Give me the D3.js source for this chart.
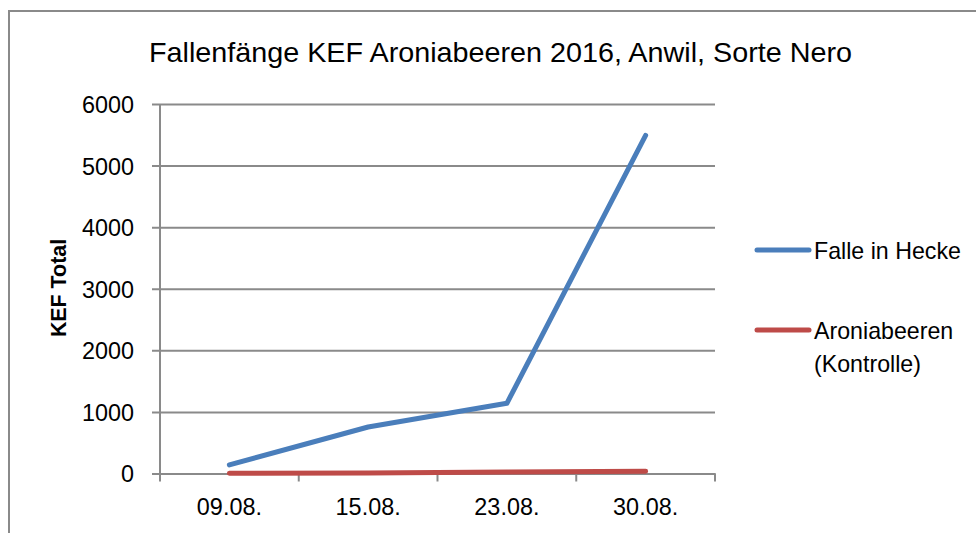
<!DOCTYPE html>
<head>
  <meta charset="utf-8">
  <script src="https://d3js.org/d3.v7.min.js"></script>
  <style>
    body { margin: 0; background: #fff; }
    text { font-family: 'Liberation Sans', Arial, sans-serif; fill: #000; }
    .title { font-size: 28px; }
    .tick-label { font-size: 23.4px; }
    .legend-text { font-size: 23.2px; }
    .y-title { font-size: 21.4px; font-weight: bold; }
  </style>
</head>
<body>
  <div id="chart"></div>
  <script>
    var dates = ['09.08.', '15.08.', '23.08.', '30.08.'];
    var falleInHecke = [140, 755, 1140, 5490];
    var aroniabeeren = [4, 9, 25, 36];
    var yTicks = [0, 1000, 2000, 3000, 4000, 5000, 6000];
    var seriesNames = ['Falle in Hecke', 'Aroniabeeren (Kontrolle)'];
    var seriesColors = ['#4a7ebb', '#be4b48'];

    var w = 976, h = 533;
    var plotLeft = 160, plotRight = 715, plotTop = 104, plotBottom = 473.5;
    var gridColor = '#8a8a8a';

    var svg = d3.select('#chart').append('svg')
      .attr('width', w)
      .attr('height', h);

    // outer frame (only top and left edges visible)
    svg.append('path')
      .attr('d', 'M9,' + h + 'V11H' + w)
      .attr('fill', 'none')
      .attr('stroke', gridColor)
      .attr('stroke-width', 2);

    var x = d3.scaleBand().domain(dates).range([plotLeft, plotRight]);
    var y = d3.scaleLinear().domain([0, 6000]).range([plotBottom, plotTop]);

    // gridlines + y labels
    var yAxis = svg.append('g')
      .attr('transform', 'translate(' + plotLeft + ',0)')
      .call(d3.axisLeft(y).tickValues(yTicks).tickFormat(d3.format('d'))
        .tickSize(-(plotRight - plotLeft)).tickSizeOuter(0).tickPadding(26));
    yAxis.select('.domain').remove();
    yAxis.selectAll('.tick line')
      .attr('x1', -8)
      .attr('stroke', gridColor)
      .attr('stroke-width', 2);
    yAxis.selectAll('.tick text')
      .attr('class', 'tick-label')
      .attr('dy', '0.36em');
    yAxis.attr('font-family', null).attr('font-size', null);

    // y axis line
    svg.append('line')
      .attr('x1', plotLeft).attr('x2', plotLeft)
      .attr('y1', plotTop).attr('y2', plotBottom)
      .attr('stroke', gridColor)
      .attr('stroke-width', 2);

    // x axis
    var xAxis = svg.append('g')
      .attr('transform', 'translate(0,' + plotBottom + ')')
      .call(d3.axisBottom(x).tickSize(0).tickPadding(25));
    xAxis.attr('font-family', null).attr('font-size', null);
    xAxis.select('.domain')
      .attr('stroke', gridColor)
      .attr('stroke-width', 2);
    xAxis.selectAll('.tick text')
      .attr('class', 'tick-label');
    var bounds = dates.map(function (d) { return x(d); }).concat([plotRight]);
    xAxis.selectAll('.sep')
      .data(bounds)
      .enter().append('line')
      .attr('x1', function (d) { return d; })
      .attr('x2', function (d) { return d; })
      .attr('y1', 0).attr('y2', 8)
      .attr('stroke', gridColor)
      .attr('stroke-width', 2);

    // lines
    var line = d3.line()
      .x(function (d, i) { return x(dates[i]) + x.bandwidth() / 2; })
      .y(function (d) { return y(d); });

    [falleInHecke, aroniabeeren].forEach(function (s, i) {
      svg.append('path')
        .datum(s)
        .attr('d', line)
        .attr('fill', 'none')
        .attr('stroke', seriesColors[i])
        .attr('stroke-width', 5)
        .attr('stroke-linecap', 'round')
        .attr('stroke-linejoin', 'round');
    });

    // title
    svg.append('text')
      .attr('class', 'title')
      .attr('x', 149)
      .attr('y', 62)
      .attr('textLength', 703)
      .attr('lengthAdjust', 'spacingAndGlyphs')
      .text('Fallenfänge KEF Aroniabeeren 2016, Anwil, Sorte Nero');

    // y title
    svg.append('text')
      .attr('class', 'y-title')
      .attr('transform', 'translate(66,288) rotate(-90)')
      .attr('text-anchor', 'middle')
      .text('KEF Total');

    // legend
    var legendY = [250, 330];
    seriesNames.forEach(function (name, i) {
      var g = svg.append('g').attr('transform', 'translate(0,' + legendY[i] + ')');
      g.append('line')
        .attr('x1', 757).attr('x2', 809)
        .attr('stroke', seriesColors[i])
        .attr('stroke-width', 5)
        .attr('stroke-linecap', 'round');
      var parts = i === 0 ? [name] : ['Aroniabeeren', '(Kontrolle)'];
      var t = g.append('text')
        .attr('class', 'legend-text')
        .attr('x', 814)
        .attr('y', 9);
      parts.forEach(function (p, j) {
        t.append('tspan')
          .attr('x', 814)
          .attr('dy', j === 0 ? 0 : 33)
          .text(p);
      });
    });
  </script>
</body>
</html>
